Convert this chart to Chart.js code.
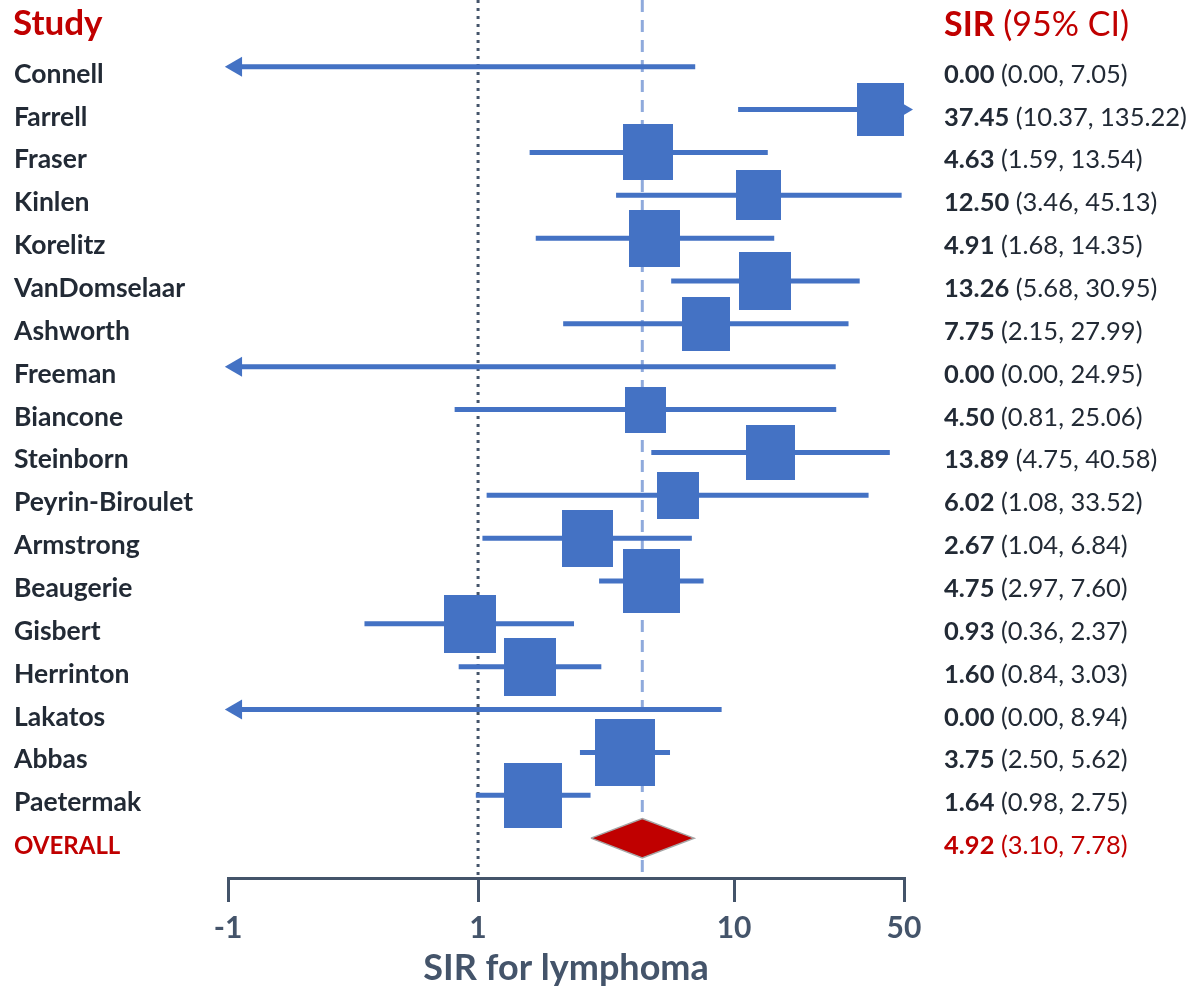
<!DOCTYPE html>
<html>
<head>
<meta charset="utf-8">
<script src="https://cdn.jsdelivr.net/npm/chart.js@4.4.1/dist/chart.umd.min.js"></script>
<style>
  body { margin: 0; background: #fff; }
  #forest { display: block; }
</style>
</head>
<body>
<canvas id="forest" width="1191" height="990"></canvas>
<script>
const studies = ['Connell', 'Farrell', 'Fraser', 'Kinlen', 'Korelitz', 'VanDomselaar', 'Ashworth', 'Freeman',
  'Biancone', 'Steinborn', 'Peyrin-Biroulet', 'Armstrong', 'Beaugerie', 'Gisbert', 'Herrinton', 'Lakatos',
  'Abbas', 'Paetermak'];
const sir = [0.00, 37.45, 4.63, 12.50, 4.91, 13.26, 7.75, 0.00, 4.50, 13.89, 6.02, 2.67, 4.75, 0.93, 1.60, 0.00, 3.75, 1.64];
const lower = [0.00, 10.37, 1.59, 3.46, 1.68, 5.68, 2.15, 0.00, 0.81, 4.75, 1.08, 1.04, 2.97, 0.36, 0.84, 0.00, 2.50, 0.98];
const upper = [7.05, 135.22, 13.54, 45.13, 14.35, 30.95, 27.99, 24.95, 25.06, 40.58, 33.52, 6.84, 7.60, 2.37, 3.03, 8.94, 5.62, 2.75];
// relative study weights (box area)
const weights = [0, 5.5, 6.3, 5.1, 6.5, 6.8, 5.8, 0, 4.2, 6.0, 4.4, 6.5, 8.1, 6.8, 6.8, 0, 9.0, 8.4];

const overallLabel = 'OVERALL';
const overall = [4.92, 3.10, 7.78];        // printed estimate, lower, upper
const overallPlotted = [4.38, 2.76, 6.98]; // where the diamond / dashed line sit in the picture

const tickLabels = ['-1', '1', '10', '50'];
const xMin = 0.1055, xMax = 46.1;
const tickValues = [xMin, 1, 10, xMax];
const arrowAt = 0.1137;

const blue = '#4472C4';
const red = '#C00000';
const ink = '#222A35';
const axisGrey = '#44546A';
const font = 'Lato';

const overallRow = studies.length;
const yMin = -1.557, yMax = 18.93;

// CI whiskers, one segment per study, broken by nulls
const whiskers = [];
studies.forEach((s, i) => {
  const lo = lower[i] > 0 ? lower[i] : arrowAt;
  const hi = Math.min(upper[i], xMax);
  whiskers.push({ x: lo, y: i }, { x: hi, y: i }, { x: null, y: null });
});

const leftArrows = [];
const rightArrows = [];
studies.forEach((s, i) => {
  if (lower[i] === 0) leftArrows.push({ x: arrowAt, y: i });
  if (upper[i] > xMax) rightArrows.push({ x: xMax, y: i });
});

const boxes = studies.map((s, i) => weights[i] > 0 ? { x: sir[i], y: i, w: weights[i] } : { x: null, y: null, w: 0 });

const boxCache = {};
function boxImage(w) {
  if (boxCache[w]) return boxCache[w];
  const width = Math.round(20 * Math.sqrt(w));
  const height = Math.round(width * 1.12);
  const c = document.createElement('canvas');
  c.width = width;
  c.height = height;
  const g = c.getContext('2d');
  g.fillStyle = blue;
  g.fillRect(0, 0, width, height);
  boxCache[w] = c;
  return c;
}

const diamond = [
  { x: overallPlotted[1], y: overallRow },
  { x: overallPlotted[0], y: overallRow - 0.46 },
  { x: overallPlotted[2], y: overallRow },
  { x: overallPlotted[0], y: overallRow + 0.46 },
  { x: overallPlotted[1], y: overallRow }
];

const textColumns = {
  id: 'textColumns',
  afterDraw(chart) {
    const { ctx } = chart;
    const y = chart.scales.y;
    ctx.save();
    ctx.textBaseline = 'alphabetic';
    ctx.textAlign = 'left';

    ctx.fillStyle = red;
    ctx.font = `bold 35px ${font}`;
    ctx.fillText('Study', 13, 35);
    ctx.font = `bold 34px ${font}`;
    ctx.fillText('SIR', 944, 36);
    let w = ctx.measureText('SIR').width;
    ctx.font = `34px ${font}`;
    ctx.fillText(' (95% CI)', 944 + w, 36);

    const rowText = (i, name, est, lo, hi, color, nameSize) => {
      const py = y.getPixelForValue(i) + 16;
      ctx.fillStyle = color;
      ctx.font = `bold ${nameSize}px ${font}`;
      ctx.fillText(name, 14, py);
      ctx.font = `bold 25.5px ${font}`;
      const a = est.toFixed(2);
      ctx.fillText(a, 944, py);
      const aw = ctx.measureText(a).width;
      ctx.font = `25.5px ${font}`;
      ctx.fillText(` (${lo.toFixed(2)}, ${hi.toFixed(2)})`, 944 + aw, py);
    };
    studies.forEach((s, i) => rowText(i, s, sir[i], lower[i], upper[i], ink, 26.5));
    rowText(overallRow, overallLabel, overall[0], overall[1], overall[2], red, 24);
    ctx.restore();
  }
};

new Chart(document.getElementById('forest'), {
  type: 'scatter',
  data: {
    datasets: [
      {
        type: 'line',
        data: diamond,
        order: 0,
        borderColor: '#A6A6A6',
        borderWidth: 1.5,
        backgroundColor: red,
        fill: 'shape',
        pointRadius: 0,
        tension: 0
      },
      {
        data: boxes,
        order: 1,
        pointStyle: ctx => ctx.raw && ctx.raw.w ? boxImage(ctx.raw.w) : 'rect',
        pointRadius: ctx => ctx.raw && ctx.raw.w ? 10 * Math.sqrt(ctx.raw.w) : 0,
        backgroundColor: blue,
        borderWidth: 0
      },
      {
        data: leftArrows,
        order: 2,
        pointStyle: 'triangle',
        rotation: -90,
        pointRadius: 11.5,
        backgroundColor: blue,
        borderWidth: 0,
        clip: false
      },
      {
        data: rightArrows,
        order: 0,
        pointStyle: 'triangle',
        rotation: 90,
        pointRadius: 9,
        backgroundColor: blue,
        borderWidth: 0,
        clip: false
      },
      {
        type: 'line',
        data: whiskers,
        order: 3,
        borderColor: blue,
        borderWidth: 5,
        borderCapStyle: 'butt',
        pointRadius: 0,
        spanGaps: false
      },
      {
        type: 'line',
        data: [{ x: 1, y: yMin }, { x: 1, y: yMax }],
        order: 4,
        borderColor: axisGrey,
        borderWidth: 3,
        borderDash: [3, 5],
        borderCapStyle: 'butt',
        pointRadius: 0
      },
      {
        type: 'line',
        data: [{ x: overallPlotted[0], y: yMin }, { x: overallPlotted[0], y: yMax }],
        order: 5,
        borderColor: '#8FAADC',
        borderWidth: 3,
        borderDash: [12, 8],
        borderCapStyle: 'butt',
        pointRadius: 0
      }
    ]
  },
  options: {
    responsive: false,
    animation: false,
    events: [],
    layout: { autoPadding: false, padding: { left: 228, right: 287, top: 0, bottom: 0 } },
    plugins: {
      legend: { display: false },
      tooltip: { enabled: false }
    },
    scales: {
      x: {
        type: 'logarithmic',
        min: xMin,
        max: xMax,
        bounds: 'data',
        afterBuildTicks: scale => { scale.ticks = tickValues.map(v => ({ value: v })); },
        afterFit: scale => { scale.height = 112; },
        ticks: {
          callback: (v, i) => tickLabels[i],
          color: axisGrey,
          font: { family: font, size: 30, weight: 'bold' },
          padding: 8,
          autoSkip: false,
          maxRotation: 0
        },
        grid: {
          drawOnChartArea: false,
          drawTicks: true,
          tickLength: 24,
          color: axisGrey,
          lineWidth: 3
        },
        border: { display: true, color: axisGrey, width: 3 },
        title: {
          display: true,
          text: 'SIR for lymphoma',
          color: axisGrey,
          font: { family: font, size: 36, weight: 'bold' },
          padding: { top: 0, bottom: 0 }
        }
      },
      y: {
        type: 'linear',
        display: false,
        reverse: true,
        min: yMin,
        max: yMax
      }
    }
  },
  plugins: [textColumns]
});
</script>
</body>
</html>
